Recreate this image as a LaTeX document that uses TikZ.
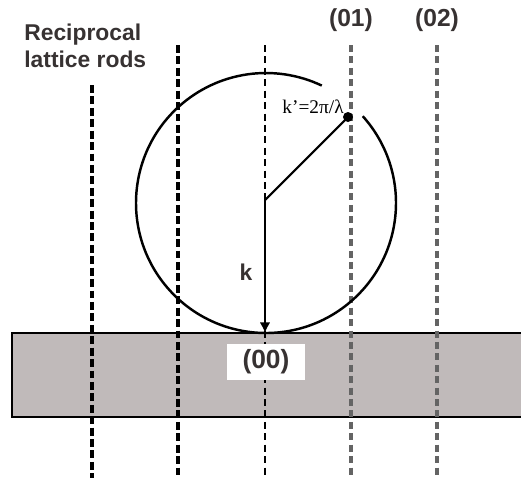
\documentclass[tikz,border=0pt]{standalone}
\usepackage{fontspec}
\setmainfont{Liberation Serif}
\setsansfont{Liberation Sans}
\usepackage{tikz}
\usetikzlibrary{arrows.meta,positioning,calc}
\definecolor{slabGray}{RGB}{192,186,186}
\definecolor{rodGray}{RGB}{100,100,100}
\definecolor{inkText}{RGB}{55,50,50}

\begin{document}
\begin{tikzpicture}[x=0.02cm,y=-0.02cm,
    rodthick/.style={line width=2.3pt,dash pattern=on 4.5pt off 2pt},
    rodthin/.style={line width=0.8pt,dash pattern=on 4pt off 2.5pt},
    rodgray/.style={rodGray,line width=2pt,dash pattern=on 4pt off 2.5pt},
    lbl/.style={font=\sffamily\bfseries,color=inkText,inner sep=0pt}]
  \useasboundingbox (0,0) rectangle (521,478);
  \newcommand{\rodline}[3]{\draw[#3] (#1,#2) -- (#1,478);}
  % substrate
  \fill[slabGray] (12,333) rectangle (521,417);
  \draw[line width=1.4pt] (521,333) -- (12,333) -- (12,417) -- (521,417);
  % rods
  \rodline{92}{85}{rodthick}
  \rodline{178}{45}{rodthick}
  \rodline{265}{45}{rodthin}
  \rodline{351}{45}{rodgray}
  \rodline{437}{45}{rodgray}
  \node[lbl,font=\sffamily\bfseries\fontsize{13}{15}\selectfont,align=left,anchor=north west]
      (rods) at (24,24) {Reciprocal\\lattice rods};
  \node[lbl,font=\sffamily\bfseries\fontsize{14}{16}\selectfont] (h01) at (351,20) {(01)};
  \node[lbl,font=\sffamily\bfseries\fontsize{14}{16}\selectfont] (h02) at (437,20) {(02)};
  \node[lbl,fill=white,font=\sffamily\bfseries\fontsize{15}{17}\selectfont,
      minimum width=44pt,minimum height=21pt] (h00) at (266,362) {(00)};
  % Ewald sphere
  \coordinate (c) at (266,203);
  \coordinate (o) at (265,200);
  \coordinate (tip) at (265,333);
  \coordinate (dot) at (348,117);
  \draw[line width=1.4pt] ($(c)+(-41.9:130)$) arc[start angle=-41.9,end angle=295.4,radius=130];
  \draw[line width=1.2pt] (o) -- (dot);
  \fill (dot) circle (5);
  \draw[line width=1pt,-{Latex[length=6pt,width=6pt]}] (o) -- (tip);
  \node[font=\fontsize{11}{13}\selectfont,inner sep=0pt,anchor=east] (kp) at (344,107) {k'=2π/λ};
  \node[lbl,font=\sffamily\bfseries\fontsize{13}{15}\selectfont] (k) at (246,272) {k};
\end{tikzpicture}
\end{document}
